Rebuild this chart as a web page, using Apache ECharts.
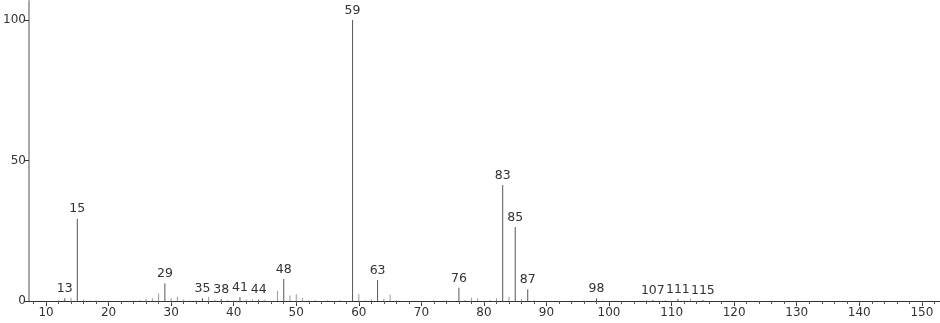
<!DOCTYPE html>
<html>
<head>
<meta charset="utf-8">
<script src="https://cdn.jsdelivr.net/npm/echarts@6/dist/echarts.min.js"></script>
<style>html,body{margin:0;padding:0;background:#fff}#c{width:940px;height:323px}</style>
</head>
<body>
<div id="c"></div>
<script>
var mz = [12,13,14,15,16,17,18,24,25,26,27,28,29,30,31,32,33,34,35,36,37,38,39,40,41,42,43,44,45,47,48,49,50,51,52,53,55,57,59,60,61,62,63,64,65,66,72,74,76,77,78,79,81,82,83,84,85,86,87,88,96,98,99,106,107,108,109,111,112,113,115];
var intensity = [0.3,1.0,1.2,29.3,0.5,0.2,0.3,0.2,0.3,0.7,1.0,2.7,6.3,1.0,1.5,0.5,0.2,0.3,1.0,1.5,0.5,0.7,0.3,0.3,1.3,0.5,0.5,0.5,0.5,3.6,7.8,2.0,2.5,1.0,0.3,0.4,0.3,0.3,100,2.4,0.3,0.6,7.5,0.8,2.3,0.3,0.3,0.3,4.7,0.4,1.2,1.0,0.4,1.0,41.3,1.5,26.3,0.7,4.2,0.3,0.3,1.0,0.2,0.3,0.4,0.2,0.3,0.7,0.3,0.9,0.4];
var labeledPeaks = [13,15,29,35,38,41,44,48,59,63,76,83,85,87,98,107,111,115];
var xMajorTicks = [10,20,30,40,50,60,70,80,90,100,110,120,130,140,150];
var xMinorTicks = [8,10,12,14,16,18,20,22,24,26,28,30,32,34,36,38,40,42,44,46,48,50,52,54,56,58,60,62,64,66,68,70,72,74,76,78,80,82,84,86,88,90,92,94,96,98,100,102,104,106,108,110,112,114,116,118,120,122,124,126,128,130,132,134,136,138,140,142,144,146,148,150,152];
var yTicks = [0,50,100];

var FONT = 'DejaVu Sans';
var data = mz.map(function (m, i) {
  var item = { value: [m, intensity[i]] };
  if (labeledPeaks.indexOf(m) >= 0) {
    item.label = { show: true };
    item.itemStyle = { color: '#555' };
  }
  return item;
});

var chart = echarts.init(document.getElementById('c'), null, { renderer: 'canvas' });
chart.setOption({
  animation: false,
  grid: { left: 29, right: 0, top: 1, bottom: 22 },
  xAxis: [
    {
      type: 'value', min: 7.28, max: 152.9,
      axisLine: { show: true, onZero: false, lineStyle: { color: '#333', width: 1 } },
      axisTick: { show: true, customValues: xMajorTicks, length: 5, lineStyle: { color: '#333' } },
      axisLabel: { show: true, customValues: xMajorTicks, color: '#333', fontFamily: FONT, fontSize: 12, margin: 6 },
      splitLine: { show: false }
    },
    {
      type: 'value', min: 7.28, max: 152.9, position: 'bottom',
      axisLine: { show: false },
      axisTick: { show: true, customValues: xMinorTicks, length: 3, lineStyle: { color: '#555' } },
      axisLabel: { show: false },
      splitLine: { show: false }
    }
  ],
  yAxis: {
    type: 'value', min: 0, max: 106.8,
    axisLine: { show: true, onZero: false, lineStyle: { color: '#a8a8a8', width: 2 } },
    axisTick: { show: true, customValues: yTicks, length: 5, lineStyle: { color: '#333' } },
    axisLabel: { show: true, customValues: yTicks, color: '#333', fontFamily: FONT, fontSize: 12, margin: 3 },
    splitLine: { show: false }
  },
  series: [{
    type: 'bar',
    xAxisIndex: 0,
    barWidth: 1,
    data: data,
    itemStyle: { color: '#999' },
    label: {
      show: false, position: 'top', distance: 3, color: '#333', fontFamily: FONT, fontSize: 12.5,
      formatter: function (p) { return String(p.value[0]); }
    }
  }]
});
</script>
</body>
</html>
